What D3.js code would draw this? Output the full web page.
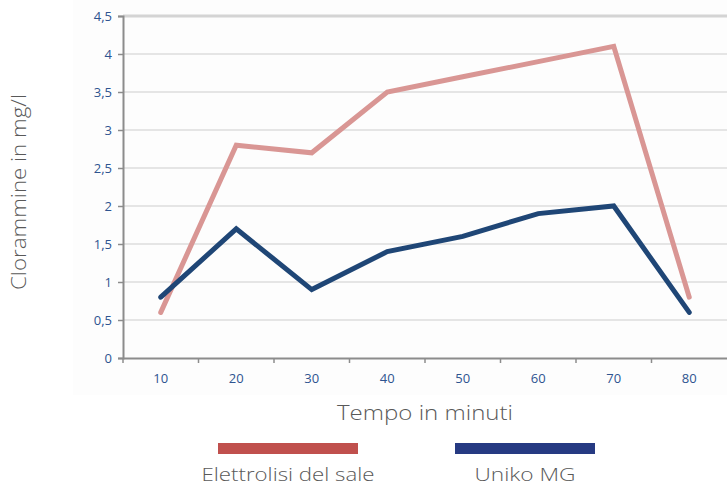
<!DOCTYPE html>
<html><head><meta charset="utf-8">
<script src="https://cdn.jsdelivr.net/npm/d3@7"></script>
<style>body{margin:0;background:#fff}svg{display:block}</style>
</head><body>
<svg id="c" width="727" height="486"></svg>
<script>
const categories = ["10","20","30","40","50","60","70","80"];
const elettrolisi = [0.6, 2.8, 2.7, 3.5, 3.7, 3.9, 4.1, 0.8];
const uniko = [0.8, 1.7, 0.9, 1.4, 1.6, 1.9, 2.0, 0.6];
const yTicks = [0, 0.5, 1, 1.5, 2, 2.5, 3, 3.5, 4, 4.5];
const yTickLabels = ["0","0,5","1","1,5","2","2,5","3","3,5","4","4,5"];
const seriesNames = ["Elettrolisi del sale", "Uniko MG"];

(function(){
const svg = d3.select("#c");
const mLeft = 123, mRight = 727, mTop = 16, mBottom = 358;
svg.append("rect").attr("x",73).attr("y",0).attr("width",654).attr("height",395).attr("fill","#fdfdfd");

const x = d3.scaleBand().domain(categories).range([mLeft, mRight]).padding(0);
const y = d3.scaleLinear().domain([0, 4.5]).range([mBottom, mTop]);

// grid
svg.append("g").selectAll("line").data(yTicks.filter(d=>d>0)).join("line")
  .attr("x1", mLeft).attr("x2", mRight)
  .attr("y1", d=>y(d)).attr("y2", d=>y(d))
  .attr("stroke", d=>d===4.5?"#d4d4d4":"#dcdcdc").attr("stroke-width", d=>d===4.5?3:1.5);

const tickFont = "'Open Sans', sans-serif";
// y axis
const yAxis = d3.axisLeft(y).tickValues(yTicks).tickFormat((d,i)=>yTickLabels[i]).tickSize(5).tickPadding(6);
const gy = svg.append("g").attr("transform",`translate(${mLeft},0)`).call(yAxis);
gy.select(".domain").attr("stroke","#8c8c8c").attr("stroke-width",2);
gy.selectAll(".tick line").attr("stroke","#8c8c8c").attr("stroke-width",1.5);
gy.selectAll("text").attr("fill","#2e5490").style("font-family",tickFont).style("font-size","13px");

// x axis
const xAxis = d3.axisBottom(x).tickSize(0).tickPadding(16);
const gx = svg.append("g").attr("transform",`translate(0,${mBottom})`).call(xAxis);
gx.select(".domain").attr("stroke","#8c8c8c").attr("stroke-width",2);
gx.selectAll("text").attr("fill","#2e5490").style("font-family",tickFont).style("font-size","13px");
gx.append("g").selectAll("line").data(categories).join("line")
  .attr("x1", d=>x(d)).attr("x2", d=>x(d)).attr("y1",0).attr("y2",5)
  .attr("stroke","#8c8c8c").attr("stroke-width",1.5);

const cx = d => x(d) + x.bandwidth()/2;
const line = d3.line().x((d,i)=>cx(categories[i])).y(d=>y(d));

svg.append("path").datum(elettrolisi).attr("d", line)
  .attr("fill","none").attr("stroke","#d99694").attr("stroke-width",5).attr("stroke-linejoin","miter").attr("stroke-linecap","round");
svg.append("path").datum(uniko).attr("d", line)
  .attr("fill","none").attr("stroke","#1f4676").attr("stroke-width",5).attr("stroke-linejoin","miter").attr("stroke-linecap","round");

const titleFont = "'Open Sans', sans-serif";
// axis titles
svg.append("text").attr("x", 425).attr("y", 420).attr("text-anchor","middle")
  .attr("fill","#595959").style("font-family",titleFont).style("font-weight",300).style("font-size","20px")
  .attr("textLength",176).attr("lengthAdjust","spacingAndGlyphs")
  .text("Tempo in minuti");
svg.append("text").attr("transform","translate(26,192) rotate(-90)").attr("text-anchor","middle")
  .attr("fill","#595959").style("font-family",titleFont).style("font-weight",300).style("font-size","21px")
  .attr("textLength",196).attr("lengthAdjust","spacingAndGlyphs")
  .text("Clorammine in mg/l");

// legend
const legColors = ["#c0504d", "#263a82"];
const legX = [218, 455];
const legW = [173, 101];
seriesNames.forEach((n,i)=>{
  svg.append("rect").attr("x",legX[i]).attr("y",443).attr("width",140).attr("height",11).attr("fill",legColors[i]);
  svg.append("text").attr("x",legX[i]+70).attr("y",481).attr("text-anchor","middle")
    .attr("fill","#595959").style("font-family",titleFont).style("font-weight",300).style("font-size","19px")
    .attr("textLength",legW[i]).attr("lengthAdjust","spacingAndGlyphs")
    .text(n);
});
})();
</script>
</body></html>
